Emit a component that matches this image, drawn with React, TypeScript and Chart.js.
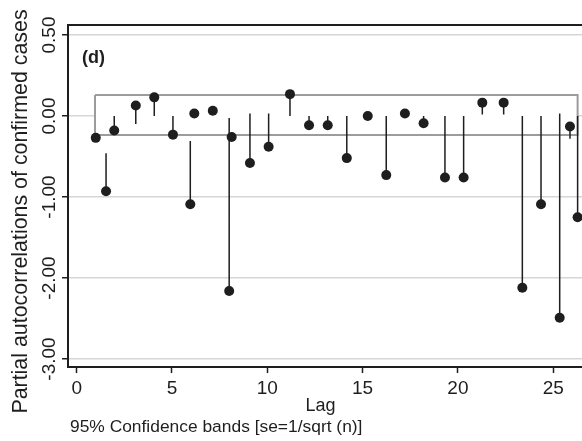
import React, { useEffect, useRef } from "react";
import { Chart, registerables } from "chart.js";

Chart.register(...registerables);

// Lag positions of the plotted partial autocorrelations (as placed in the figure)
const lags = [1.0, 1.54, 1.97, 3.1, 4.07, 5.05, 5.96, 6.17, 7.14, 8.13, 8.0, 9.09, 10.07, 11.19, 12.19, 13.17, 14.17, 15.27, 16.24, 17.22, 18.2, 19.32, 20.3, 21.28, 22.4, 23.38, 24.36, 25.34, 25.88, 26.28];
// Partial autocorrelation values (axis units)
const pacValues = [-0.27, -0.93, -0.18, 0.13, 0.23, -0.23, -1.09, 0.03, 0.065, -0.26, -2.16, -0.58, -0.38, 0.27, -0.115, -0.115, -0.52, 0.0, -0.73, 0.03, -0.09, -0.76, -0.76, 0.165, 0.165, -2.12, -1.09, -2.49, -0.13, -1.25];
// Where each spike starts (null = no spike drawn)
const stemFrom: (number | null)[] = [null, -0.46, 0, -0.1, 0, 0, -0.31, null, null, null, -0.025, 0.03, 0.03, 0, 0, 0, 0, null, 0, null, 0, 0, 0, 0.02, 0.02, 0, 0, 0.03, -0.28, 0];

// Confidence band
const bandLags = [0.96, 26.28];
const bandUpper = [0.26, 0.26];
const bandLower = [-0.235, -0.235];

// Axis ticks
const xTickValues = [0, 5, 10, 15, 20, 25];
const yTickValues = [1, 0, -1, -2, -3];
const yTickLabels = ["0.50", "0.00", "-1.00", "-2.00", "-3.00"];

const FONT = '"Liberation Sans", Arial, Helvetica, sans-serif';
const INK = "#1e1e1e";

export default function App() {
  const ref = useRef<HTMLCanvasElement | null>(null);

  useEffect(() => {
    const canvas = ref.current;
    if (!canvas) return;

    const dots = lags.map((x, i) => ({ x, y: pacValues[i] }));
    const stems: { x: number; y: number | null }[] = [];
    lags.forEach((x, i) => {
      const s = stemFrom[i];
      if (s === null) return;
      stems.push({ x, y: s });
      stems.push({ x, y: pacValues[i] });
      stems.push({ x, y: null });
    });
    const band = [
      { x: bandLags[0], y: bandUpper[0] },
      { x: bandLags[1], y: bandUpper[1] },
      { x: bandLags[1], y: bandLower[1] },
      { x: bandLags[0], y: bandLower[0] },
      { x: bandLags[0], y: bandUpper[0] },
    ];

    const textPlugin = {
      id: "texts",
      afterDraw(chart: any) {
        const { ctx, chartArea, scales } = chart;
        const ys = scales.y;
        ctx.save();
        ctx.fillStyle = INK;
        // y tick labels (rotated)
        ctx.font = `19px ${FONT}`;
        ctx.textAlign = "center";
        ctx.textBaseline = "alphabetic";
        yTickValues.forEach((v, i) => {
          const py = ys.getPixelForValue(v);
          ctx.save();
          ctx.translate(chartArea.left - 13, py);
          ctx.rotate(-Math.PI / 2);
          ctx.fillText(yTickLabels[i], 0, 0);
          ctx.restore();
        });
        // y title
        ctx.font = `21.4px ${FONT}`;
        ctx.save();
        ctx.translate(chartArea.left - 41, (chartArea.top + chartArea.bottom) / 2 + 15.5);
        ctx.rotate(-Math.PI / 2);
        ctx.fillText("Partial autocorrelations of confirmed cases", 0, 0);
        ctx.restore();
        // panel label
        ctx.font = `bold 18px ${FONT}`;
        ctx.textAlign = "left";
        ctx.textBaseline = "middle";
        ctx.fillText("(d)", chartArea.left + 14, chartArea.top + 33);
        // x title
        ctx.font = `18px ${FONT}`;
        ctx.textAlign = "center";
        ctx.textBaseline = "alphabetic";
        ctx.fillText("Lag", 320.5, chartArea.bottom + 44);
        // note
        ctx.font = `17.4px ${FONT}`;
        ctx.textAlign = "left";
        ctx.fillText("95% Confidence bands [se=1/sqrt (n)]", 70, chartArea.bottom + 65);
        ctx.restore();
      },
    };

    const chart = new Chart(canvas, {
      type: "line",
      data: {
        datasets: [
          {
            label: "PAC",
            data: dots,
            showLine: false,
            pointRadius: 5,
            pointHoverRadius: 5,
            pointBackgroundColor: INK,
            pointBorderColor: INK,
            pointBorderWidth: 0,
            order: 0,
          },
          {
            label: "spikes",
            data: stems,
            borderColor: INK,
            borderWidth: 1.5,
            pointRadius: 0,
            spanGaps: false,
            fill: false,
            order: 1,
          },
          {
            label: "band",
            data: band,
            borderColor: "#9c9c9c",
            borderWidth: 2,
            backgroundColor: "#ffffff",
            pointRadius: 0,
            fill: "shape",
            order: 2,
          },
        ] as any,
      },
      options: {
        responsive: false,
        animation: false,
        events: [],
        layout: { autoPadding: false, padding: { top: 25, left: 0, right: 0, bottom: 0 } },
        plugins: {
          legend: { display: false },
          tooltip: { enabled: false },
        },
        scales: {
          x: {
            type: "linear",
            position: "bottom",
            min: -0.456,
            max: 26.51,
            afterBuildTicks: (s: any) => {
              s.ticks = xTickValues.map((v) => ({ value: v }));
            },
            afterFit: (s: any) => {
              s.height = 74;
            },
            grid: {
              display: true,
              drawOnChartArea: false,
              drawTicks: true,
              tickLength: 6,
              tickColor: INK,
              tickWidth: 1.5,
            },
            border: { display: true, color: INK, width: 2 },
            ticks: {
              color: INK,
              font: { family: FONT, size: 19 },
              padding: 4,
              maxRotation: 0,
              autoSkip: false,
            },
          },
          xTop: {
            type: "linear",
            position: "top",
            min: -0.456,
            max: 26.51,
            afterFit: (s: any) => {
              s.height = 0;
            },
            grid: { display: false, drawTicks: false },
            border: { display: true, color: INK, width: 2 },
            ticks: { display: false },
          },
          y: {
            type: "linear",
            position: "left",
            min: -3.099,
            max: 1.1235,
            afterBuildTicks: (s: any) => {
              s.ticks = yTickValues.map((v) => ({ value: v }));
            },
            afterFit: (s: any) => {
              s.width = 68;
            },
            grid: {
              display: true,
              drawOnChartArea: true,
              color: "#d6d6d6",
              lineWidth: 1.5,
              drawTicks: true,
              tickLength: 6,
              tickColor: INK,
              tickWidth: 1.5,
            },
            border: { display: true, color: INK, width: 2 },
            ticks: { display: false },
          },
        },
      } as any,
      plugins: [textPlugin],
    });

    return () => chart.destroy();
  }, []);

  return (
    <div style={{ position: "fixed", left: 0, top: 0, width: 582, height: 441, background: "#fff" }}>
      <canvas ref={ref} width={582} height={441} style={{ width: 582, height: 441, display: "block" }} />
    </div>
  );
}
